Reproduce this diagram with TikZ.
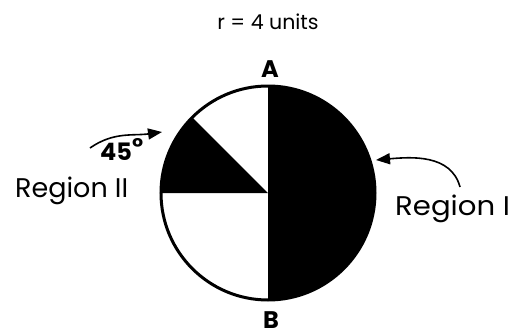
\documentclass[tikz,border=0pt]{standalone}
\usepackage{fontspec}
\setmainfont{Poppins}
\usetikzlibrary{arrows.meta}

\begin{document}
\begin{tikzpicture}[x=1pt, y=1pt,
		lbl/.style={font=\fontsize{27}{30}\selectfont, inner sep=0pt},
		pt/.style={font=\bfseries\fontsize{24}{26}\selectfont, inner sep=0pt},
		curvearrow/.style={line width=1.6pt, -{Triangle[length=14pt, width=11pt]}}
	]
	\useasboundingbox (-268,-142) rectangle (254,193);
	\coordinate (O) at (0,0);
	% shaded parts of the disc
	\fill (O) -- (90:107) arc (90:-90:107) -- cycle;
	\fill (O) -- (135:107) arc (135:180:107) -- cycle;
	\draw[line width=3pt] (O) circle (107);
	% labels
	\node[lbl, scale=0.76, anchor=base] (r) at (0,164) {r = 4 units};
	\node[pt, anchor=base] (A) at (2,116) {A};
	\node[pt, anchor=base] (B) at (3,-135) {B};
	\node[lbl, anchor=base west] (regII) at (-253,-4) {Region II};
	\node[lbl, anchor=base west, xscale=1.08] (regI) at (127,-22) {Region I};
	\node[pt, anchor=base west] (ang) at (-168,33) {45\raisebox{5pt}{\textdegree}};
	% arrows
	\coordinate (tailII) at (-178,45);
	\coordinate (tipII) at (-106,61);
	\coordinate (tailI) at (192,6);
	\coordinate (tipI) at (108,33);
	\draw[curvearrow] (tailII) to[out=35, in=188] (tipII);
	\draw[curvearrow] (tailI) to[out=105, in=5] (tipI);
\end{tikzpicture}
\end{document}
